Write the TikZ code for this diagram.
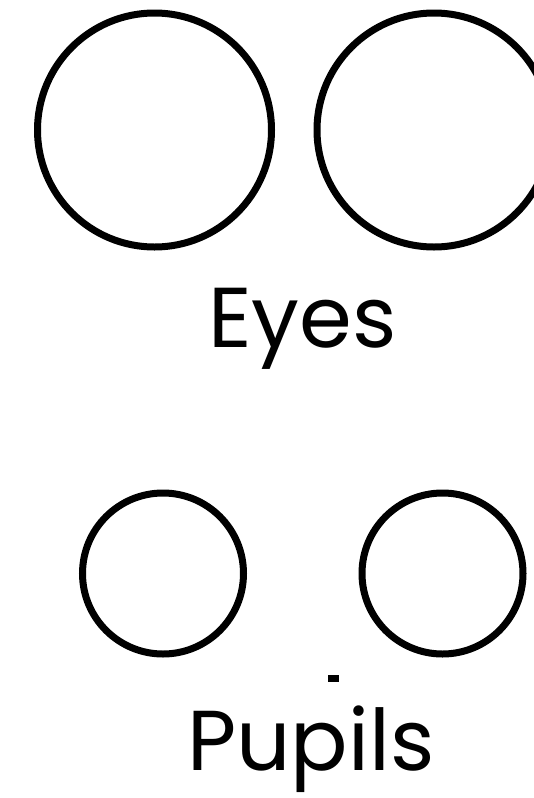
\documentclass[tikz,border=0pt]{standalone}
\usepackage{fontspec}
\setmainfont{Poppins}
\begin{document}
\begin{tikzpicture}[x=1pt,y=-1pt,
  ring/.style={draw=black,line width=7pt,circle,inner sep=0pt,fill=none},
  label/.style={font=\fontsize{85}{90}\selectfont,inner sep=0pt,anchor=base}]
\path[use as bounding box] (0,0) rectangle (534,798);
\begin{scope}
\clip (0,0) rectangle (534,798);
\node[ring,minimum size=234pt] (eyeL) at (154.5,130) {};
\node[ring,minimum size=234pt] (eyeR) at (434,130) {};
\node[ring,minimum size=161pt] (pupL) at (163,573.5) {};
\node[ring,minimum size=161pt] (pupR) at (442.5,573.5) {};
\end{scope}
\node[label] (eyes) at (302.5,347) {Eyes};
\node[label] (pupils) at (311,770) {Pupils};
\fill[black] (328,675) rectangle (339,682);
\end{tikzpicture}
\end{document}
